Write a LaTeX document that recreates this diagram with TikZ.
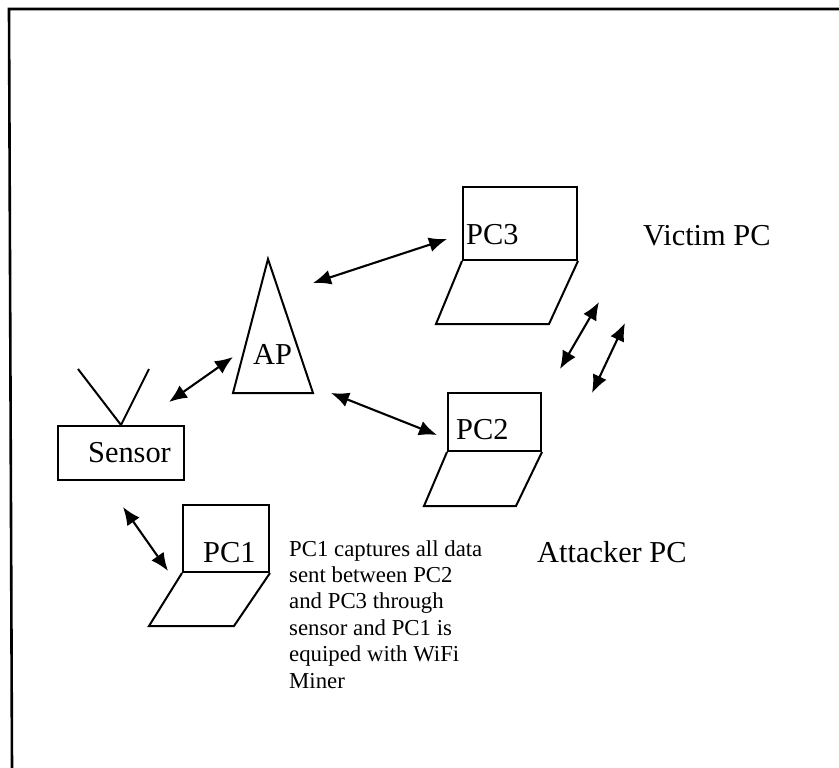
\documentclass[tikz,border=0pt]{standalone}
\usepackage{fontspec}
\setmainfont{Liberation Serif}
\usetikzlibrary{arrows.meta,positioning}
\tikzset{
    boxed/.style={draw=black, line width=2pt, inner sep=0pt},
    bigtext/.style={inner sep=0pt, anchor=base west, font=\fontsize{30.4}{36}\selectfont},
    biarrow/.style={line width=2.1pt, {Latex[length=18pt,width=15pt]}-{Latex[length=18pt,width=15pt]}},
    outline/.style={line width=2pt, line join=miter}
}

\begin{document}
\begin{tikzpicture}[x=1pt,y=-1pt]
    \useasboundingbox (0,0) rectangle (839,768);

    % page frame, open on two sides
    \coordinate (frameright) at (839,9);
    \coordinate (framecorner) at (9,9);
    \coordinate (framebottom) at (12,768);
    \draw[line width=2.6pt] (frameright) -- (framecorner) -- (framebottom);

    % sensor and its antenna
    \node[boxed, minimum width=126pt, minimum height=54pt, font=\fontsize{30.4}{36}\selectfont] (sensor) at (121,453) {\hspace*{17pt}Sensor};
    \draw[outline] (78,369) -- (sensor.north) -- (149,369);

    % access point
    \coordinate (aptop) at (268,259);
    \coordinate (apleft) at (233,393);
    \coordinate (apright) at (313,393);
    \draw[outline] (aptop) -- (apleft) -- (apright) -- cycle;
    \node[bigtext] (aplabel) at (253,364) {AP};

    % laptops
    \node[boxed, minimum width=114pt, minimum height=73pt] (pcthree) at (520,223.5) {};
    \draw[outline] (pcthree.south west) -- ++(-26,63) -- ++(113,0) -- (pcthree.south east);
    \node[bigtext] (pcthreelabel) at ([shift={(4,58)}]pcthree.north west) {PC3};

    \node[boxed, minimum width=93pt, minimum height=58pt] (pctwo) at (494.5,422) {};
    \draw[outline] (pctwo.south west) -- ++(-23,54) -- ++(92,0) -- (pctwo.south east);
    \node[bigtext] (pctwolabel) at ([shift={(9,47)}]pctwo.north west) {PC2};

    \node[boxed, minimum width=86pt, minimum height=67pt] (pcone) at (226,538.5) {};
    \draw[outline] (pcone.south west) -- ++(-33,53) -- ++(85,0) -- (pcone.south east);
    \node[bigtext] (pconelabel) at ([shift={(21,58)}]pcone.north west) {PC1};

    % captions
    \node[bigtext] (victim) at (643,245) {Victim PC};
    \node[bigtext] (attacker) at (537,562) {Attacker PC};
    \node[inner sep=0pt, anchor=base west, align=left, font=\fontsize{22.8}{26.4}\selectfont] (note) at (289,688) {PC1 captures all data\\
        sent between PC2\\
        and PC3 through\\
        sensor and PC1 is\\
        equiped with WiFi\\
        Miner};

    % links
    \draw[biarrow] ([shift={(-16,-23)}]sensor.north east) -- ([shift={(0,-36)}]apleft);
    \draw[biarrow] ([shift={(0,-110)}]apright) -- ([shift={(-15,53)}]pcthree.north west);
    \draw[biarrow] ([shift={(18,0)}]apright) -- ([shift={(-10,43)}]pctwo.north west);
    \draw[biarrow] ([shift={(-62,26)}]sensor.south east) -- ([shift={(-14,67)}]pcone.north west);

    % between the two victim and attacker laptops
    \coordinate (upperA) at (599,302);
    \coordinate (lowerA) at (560,369);
    \coordinate (upperB) at (625,323);
    \coordinate (lowerB) at (592,393);
    \draw[biarrow] (upperA) -- (lowerA);
    \draw[biarrow] (upperB) -- (lowerB);
\end{tikzpicture}
\end{document}
